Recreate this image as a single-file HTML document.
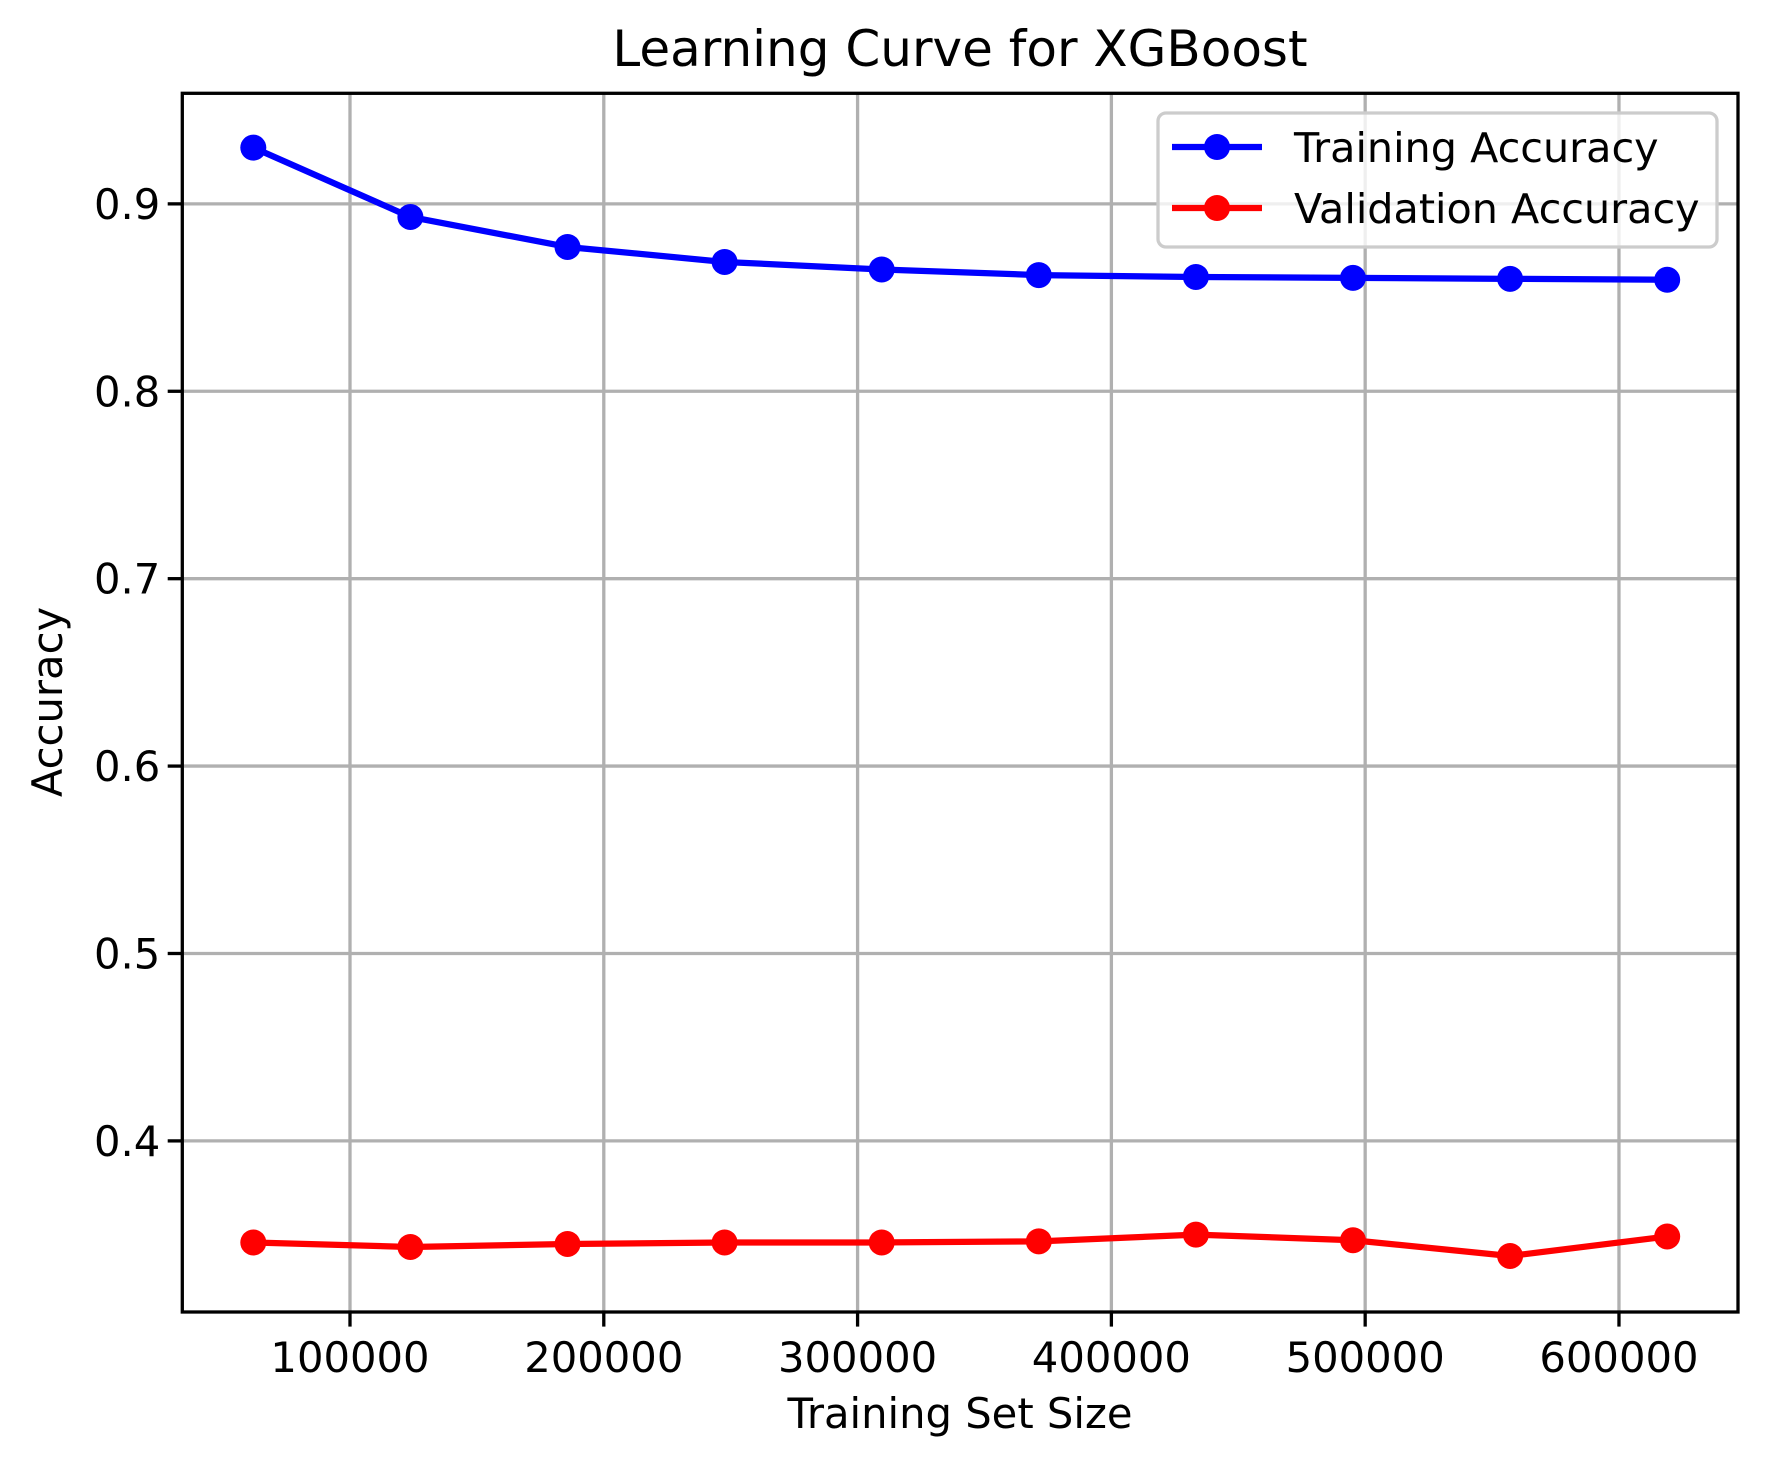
<!DOCTYPE html>
<html><head><meta charset="utf-8"><style>
body{margin:0;background:#fff}
svg{display:block;font-family:"DejaVu Sans","Liberation Sans",sans-serif}
</style></head><body>
<svg id="chart" width="1767" height="1468" viewBox="0 0 1767 1468" xmlns="http://www.w3.org/2000/svg">
<rect width="1767" height="1468" fill="#fff"/>
<text x="960" y="66" font-size="50" text-anchor="middle">Learning Curve for XGBoost</text>
<g id="grid"></g>
<g id="series"></g>
<rect x="182.3" y="93.3" width="1555.7" height="1218.7" fill="none" stroke="#000" stroke-width="3.3"/>
<g id="ticks"></g>
<text x="960" y="1428" font-size="41.7" text-anchor="middle">Training Set Size</text>
<text transform="translate(62,702) rotate(-90)" font-size="41.7" text-anchor="middle">Accuracy</text>
<g>
<rect x="1158" y="113" width="559" height="134" rx="8" fill="#fff" fill-opacity="0.8" stroke="#ccc" stroke-width="3.3"/>
<line x1="1172" y1="147" x2="1262" y2="147" stroke="#0000ff" stroke-width="6.25"/>
<circle cx="1217" cy="147" r="13" fill="#0000ff"/>
<text x="1294" y="162" font-size="41.3">Training Accuracy</text>
<line x1="1172" y1="208" x2="1262" y2="208" stroke="#ff0000" stroke-width="6.25"/>
<circle cx="1217" cy="208" r="13" fill="#ff0000"/>
<text x="1294" y="223" font-size="41.3">Validation Accuracy</text>
</g>
</svg>
<script>
const sizes=[61900,123800,185700,247600,309500,371400,433300,495200,557100,619000];
const trainAcc=[0.930,0.893,0.877,0.869,0.865,0.862,0.861,0.8605,0.860,0.8595];
const valAcc=[0.3458,0.3434,0.345,0.3458,0.3458,0.3464,0.350,0.347,0.3386,0.349];
const xTicks=[100000,200000,300000,400000,500000,600000];
const yTicks=[0.4,0.5,0.6,0.7,0.8,0.9];
const yTickLabels=["0.4","0.5","0.6","0.7","0.8","0.9"];
const X0=182.3,X1=1738,Y0=93.3,Y1=1312;
const xMin=33925,xMax=646900,yMin=0.3087,yMax=0.959;
function sx(v){return X0+(v-xMin)/(xMax-xMin)*(X1-X0);}
function sy(v){return Y1-(v-yMin)/(yMax-yMin)*(Y1-Y0);}
const NS="http://www.w3.org/2000/svg";
function mk(tag,attrs,parent){const e=document.createElementNS(NS,tag);for(const k in attrs)e.setAttribute(k,attrs[k]);parent.appendChild(e);return e;}
const grid=document.getElementById('grid'),ticks=document.getElementById('ticks'),series=document.getElementById('series');
xTicks.forEach(t=>{const x=sx(t);
 const g=mk('line',{x1:x,y1:Y0,x2:x,y2:Y1,stroke:'#b0b0b0','stroke-width':3.3},grid);
 
 
 const tk=mk('line',{x1:x,y1:Y1,x2:x,y2:Y1+14.6,stroke:'#000','stroke-width':3.3},ticks);
 
 
 const lb=mk('text',{x:x,y:Y1+60,'font-size':41.7,'text-anchor':'middle'},ticks);lb.textContent=String(t);
 
 
});
yTicks.forEach((t,i)=>{const y=sy(t);
 const g=mk('line',{x1:X0,y1:y,x2:X1,y2:y,stroke:'#b0b0b0','stroke-width':3.3},grid);
 
 
 const tk=mk('line',{x1:X0-14.6,y1:y,x2:X0,y2:y,stroke:'#000','stroke-width':3.3},ticks);
 
 
 const lb=mk('text',{x:X0-22,y:y+15,'font-size':41.7,'text-anchor':'end'},ticks);lb.textContent=yTickLabels[i];
 
 
});
function drawSeries(vals,color,name){
 const pts=sizes.map((s,i)=>sx(s)+','+sy(vals[i])).join(' ');
 const pl=mk('polyline',{points:pts,fill:'none',stroke:color,'stroke-width':6.25,'stroke-linejoin':'round'},series);
 
 
 sizes.forEach((s,i)=>{const c=mk('circle',{cx:sx(s),cy:sy(vals[i]),r:13,fill:color},series);
  
  
 });
}
drawSeries(trainAcc,'#0000ff','training-accuracy');
drawSeries(valAcc,'#ff0000','validation-accuracy');
</script>
</body></html>
